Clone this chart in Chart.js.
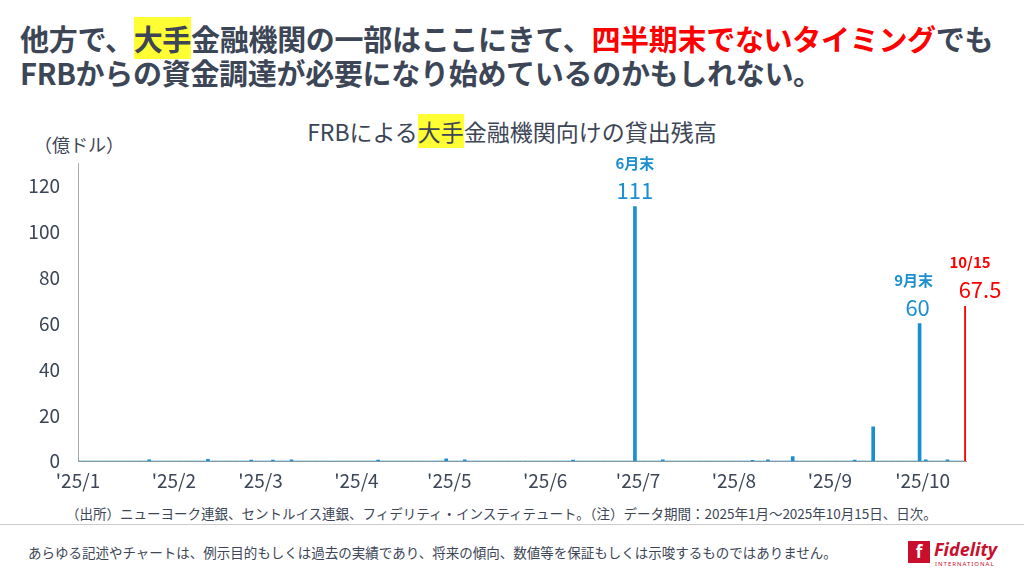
<!DOCTYPE html>
<html><head><meta charset="utf-8">
<script src="https://cdn.jsdelivr.net/npm/chart.js@4"></script>
<style>
body{margin:0;width:1024px;height:576px;position:relative;font-family:"Noto Sans CJK JP","Noto Sans",sans-serif;color:#3c4656;background:#fff;overflow:hidden}
#head{position:absolute;left:20px;top:21px;font-size:29px;font-weight:bold;line-height:34px;color:#3c4656;letter-spacing:-0.3px}
.hl{background:#ffff33}
.red{color:#f00}
#title{position:absolute;left:0;width:1024px;top:114px;text-align:center;font-size:23px}
#unit{position:absolute;left:34px;top:131px;font-size:18px}
#src{position:absolute;left:66px;top:503px;font-size:13.5px}
#line{position:absolute;left:0;top:524px;width:1024px;height:1px;background:#ccc}
#disc{position:absolute;left:28px;top:542px;font-size:13.5px}
#logo{position:absolute;left:908px;top:541px;font-family:"Noto Sans",sans-serif}
canvas{position:absolute;left:0;top:0}
</style></head><body>
<div id="head">他方で、<span class="hl">大手</span>金融機関の一部はここにきて、<span class="red">四半期末でないタイミング</span>でも<br>FRBからの資金調達が必要になり始めているのかもしれない。</div>
<div id="title">FRBによる<span class="hl">大手</span>金融機関向けの貸出残高</div>
<div id="unit">（億ドル）</div>
<div id="src">（出所）ニューヨーク連銀、セントルイス連銀、フィデリティ・インスティテュート。（注）データ期間：2025年1月～2025年10月15日、日次。</div>
<div id="line"></div>
<div id="disc">あらゆる記述やチャートは、例示目的もしくは過去の実績であり、将来の傾向、数値等を保証もしくは示唆するものではありません。</div>
<div id="logo"><div style="position:absolute;left:0;top:0;width:22px;height:22px;background:#c8102e;color:#fff;font-weight:bold;font-size:17px;text-align:center;line-height:22px">f</div><div style="position:absolute;left:26px;top:-4px;font-size:18px;font-weight:bold;color:#c8102e;font-style:italic">Fidelity</div><div style="position:absolute;left:27px;top:19px;font-size:6px;color:#c8102e;letter-spacing:1px">INTERNATIONAL</div></div>
<canvas id="c" width="1024" height="576"></canvas>
<script>
// Daily observations, 2025-01-01 .. 2025-10-15 (non-zero days, 億ドル)
const obsDates = ['2025-01-24','2025-02-12','2025-02-26','2025-03-05','2025-03-11','2025-04-08','2025-04-30','2025-05-06','2025-06-10','2025-06-30','2025-07-09','2025-08-07','2025-08-12','2025-08-20','2025-09-09','2025-09-15','2025-09-30','2025-10-02','2025-10-09','2025-10-15'];
const obsValues = [0.6,0.8,0.5,0.5,0.6,0.5,1.0,0.6,0.5,111,0.6,0.4,0.6,2.0,0.5,15,60,0.6,0.6,67.5];
const monthTicks = ["'25/1","'25/2","'25/3","'25/4","'25/5","'25/6","'25/7","'25/8","'25/9","'25/10"];
const notes = [{date:'2025-06-30',label:'6月末',value:'111',color:'#1a8fd0'},{date:'2025-09-30',label:'9月末',value:'60',color:'#1a8fd0'},{date:'2025-10-15',label:'10/15',value:'67.5',color:'#f00'}];

const labels=[];
for(let d=new Date(Date.UTC(2025,0,1));d<=new Date(Date.UTC(2025,9,15));d.setUTCDate(d.getUTCDate()+1)) labels.push(d.toISOString().slice(0,10));
const vals=labels.map(l=>{const i=obsDates.indexOf(l);return i<0?0:obsValues[i];});
const colors=labels.map(l=>l==='2025-10-15'?'#ff0000':'#1a8fd0');
const font={family:'"Noto Sans CJK JP","Noto Sans",sans-serif'};
const notePlugin={id:'notes',afterDatasetsDraw(ch){
  const c=ch.ctx,x=ch.scales.x,y=ch.scales.y;
  notes.forEach(n=>{const i=labels.indexOf(n.date);const px=x.getPixelForValue(i);const i2=obsDates.indexOf(n.date);const py=y.getPixelForValue(obsValues[i2]);
   c.save();c.fillStyle=n.color;c.textAlign='center';
   const lx=n.date==='2025-10-15'?px+4:(n.date==='2025-09-30'?px-6:px);
   const vx=n.date==='2025-10-15'?px+14:(n.date==='2025-09-30'?px-2:px);
   c.font='bold 15px '+font.family;c.fillText(n.label,lx,py-38);
   c.font='22px '+font.family;c.fillText(n.value,vx,py-8);c.restore();});
}};
new Chart(document.getElementById('c'),{type:'bar',
 data:{labels,datasets:[{data:vals,backgroundColor:colors,barThickness:3}]},
 options:{responsive:false,animation:false,
  layout:{padding:{left:0,right:58,top:163,bottom:84}},
  plugins:{legend:{display:false},tooltip:{enabled:false}},
  scales:{
   x:{offset:false,grid:{display:false,drawTicks:true},border:{color:'#999'},
      afterBuildTicks(ax){ax.ticks=labels.map((l,i)=>({value:i})).filter(t=>labels[t.value].endsWith('-01'));},
      ticks:{autoSkip:false,maxRotation:0,color:'#3c4656',font:{...font,size:19},padding:0,
        callback(v){const m=+labels[v].slice(5,7);return monthTicks[m-1];}}},
   y:{min:0,max:130,afterFit(s){s.width=78;},grid:{display:false},border:{color:'#aaa'},
      afterBuildTicks(ax){ax.ticks=[0,20,40,60,80,100,120].map(v=>({value:v}));},
      ticks:{color:'#3c4656',font:{...font,size:19},padding:10}}
  }},plugins:[notePlugin]});
</script></body></html>
